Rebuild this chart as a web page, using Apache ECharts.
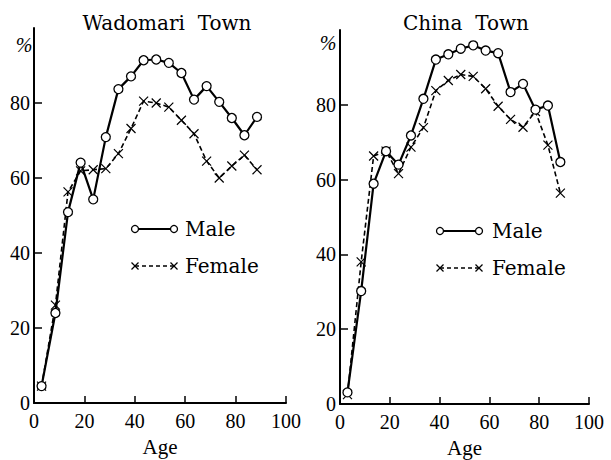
<!DOCTYPE html>
<html>
<head>
<meta charset="utf-8">
<script src="https://cdn.jsdelivr.net/npm/echarts@6/dist/echarts.min.js"></script>
<style>html,body{margin:0;padding:0;background:#fff;}#c{width:611px;height:460px;}</style>
</head>
<body>
<div id="c"></div>
<script>
// Age group midpoints (years)
const ages = [3, 8.5, 13.5, 18.5, 23.5, 28.5, 33.5, 38.5, 43.5, 48.5, 53.5, 58.5, 63.5, 68.5, 73.5, 78.5, 83.5, 88.5];
// Wadomari Town (%)
const wadomariMale = [4.5, 24, 50.9, 64.1, 54.3, 70.9, 83.7, 87.1, 91.4, 91.6, 90.7, 88, 80.9, 84.5, 80.3, 76, 71.4, 76.3];
const wadomariFemale = [4.5, 26.1, 56.3, 61.9, 62.2, 62.5, 66.5, 73.2, 80.5, 80, 78.9, 75.4, 71.8, 64.5, 60, 63.2, 66.1, 62.2];
// China Town (%)
const chinaMale = [3.1, 30.2, 58.9, 67.6, 64, 71.8, 81.6, 92.1, 93.5, 95, 95.9, 94.5, 93.8, 83.4, 85.6, 78.7, 79.8, 64.7];
const chinaFemale = [2.5, 38, 66.3, 67.6, 61.6, 68.7, 73.9, 83.8, 86.5, 88.1, 87.6, 84.3, 79.6, 76.1, 74, 78.2, 69.2, 56.4];
// Titles and labels
const panelTitles = ['Wadomari  Town', 'China  Town'];
const seriesNames = ['Male', 'Female'];
const xTicks = [0, 20, 40, 60, 80, 100];
const yTicks = [0, 20, 40, 60, 80];
const xLabel = 'Age';
const yUnit = '%';

const pairs = (xs, ys) => xs.map((x, i) => [x, ys[i]]);
const crossPath = 'path://M0,0L10,10M0,10L10,0';
const serifNum = 'Liberation Serif';
const serifText = 'DejaVu Serif';

function xAxisFor(gi) {
  return {
    gridIndex: gi, type: 'value', min: 0, max: 100, interval: 20,
    name: xLabel, nameLocation: 'middle', nameGap: 33,
    nameTextStyle: {fontFamily: serifNum, fontSize: 21, color: '#000'},
    axisLine: {show: true, onZero: false, lineStyle: {color: '#000', width: 2}},
    axisTick: {show: true, inside: true, length: 7, lineStyle: {color: '#000', width: 1.5}, customValues: xTicks.slice(1)},
    axisLabel: {color: '#000', fontFamily: serifNum, fontSize: 20, margin: 8, customValues: xTicks},
    splitLine: {show: false}
  };
}
function yAxisFor(gi) {
  return {
    gridIndex: gi, type: 'value', min: 0, max: 100, interval: 20,
    axisLine: {show: true, onZero: false, lineStyle: {color: '#000', width: 2}},
    axisTick: {show: true, inside: true, length: 8, lineStyle: {color: '#000', width: 1.5}, customValues: yTicks.slice(1)},
    axisLabel: {color: '#000', fontFamily: serifNum, fontSize: 20, margin: 4, customValues: yTicks},
    splitLine: {show: false}
  };
}
function maleSeries(gi, data) {
  return {
    name: seriesNames[0], type: 'line', xAxisIndex: gi, yAxisIndex: gi, z: 3,
    data: pairs(ages, data), symbol: 'circle', symbolSize: 9,
    lineStyle: {color: '#000', width: 2.2},
    itemStyle: {color: '#fff', borderColor: '#000', borderWidth: 1.3},
    animation: false
  };
}
function femaleSeries(gi, data) {
  return {
    name: seriesNames[1], type: 'line', xAxisIndex: gi, yAxisIndex: gi, z: 2,
    data: pairs(ages, data), symbol: crossPath, symbolSize: 9,
    lineStyle: {color: '#000', width: 1.6, type: [5, 3]},
    itemStyle: {color: '#000', borderColor: '#000', borderWidth: 1.2},
    animation: false
  };
}
function txt(text, x, y, size, family, align, style) {
  return {type: 'text', x: x, y: y, style: {text: text, fontSize: size, fontFamily: family, fontStyle: style || 'normal',
    fill: '#000', align: align || 'center', verticalAlign: 'middle', textAlign: align || 'center', textVerticalAlign: 'middle'}};
}
function legendGroup(x1, x2, ym, yf, tx) {
  const els = [];
  els.push({type: 'line', shape: {x1: x1, y1: ym, x2: x2, y2: ym}, style: {stroke: '#000', lineWidth: 2}});
  els.push({type: 'circle', shape: {cx: x1, cy: ym, r: 3.5}, style: {fill: '#fff', stroke: '#000', lineWidth: 1.3}});
  els.push({type: 'circle', shape: {cx: x2, cy: ym, r: 3.5}, style: {fill: '#fff', stroke: '#000', lineWidth: 1.3}});
  els.push(txt(seriesNames[0], tx, ym, 20, serifText, 'left'));
  els.push({type: 'line', shape: {x1: x1, y1: yf, x2: x2, y2: yf}, style: {stroke: '#000', lineWidth: 1.5, lineDash: [4, 3]}});
  [x1, x2].forEach(function (cx) {
    els.push({type: 'line', shape: {x1: cx - 3.5, y1: yf - 3.5, x2: cx + 3.5, y2: yf + 3.5}, style: {stroke: '#000', lineWidth: 1.2}});
    els.push({type: 'line', shape: {x1: cx - 3.5, y1: yf + 3.5, x2: cx + 3.5, y2: yf - 3.5}, style: {stroke: '#000', lineWidth: 1.2}});
  });
  els.push(txt(seriesNames[1], tx, yf, 20, serifText, 'left'));
  return els;
}

const chart = echarts.init(document.getElementById('c'), null, {renderer: 'svg'});
chart.setOption({
  backgroundColor: '#fff',
  animation: false,
  grid: [
    {left: 34, top: 28, width: 252, height: 375, containLabel: false, outerBoundsMode: 'none'},
    {left: 340, top: 30, width: 249, height: 374, containLabel: false, outerBoundsMode: 'none'}
  ],
  xAxis: [xAxisFor(0), xAxisFor(1)],
  yAxis: [yAxisFor(0), yAxisFor(1)],
  series: [
    femaleSeries(0, wadomariFemale), maleSeries(0, wadomariMale),
    femaleSeries(1, chinaFemale), maleSeries(1, chinaMale)
  ],
  graphic: [].concat(
    [txt(panelTitles[0], 167, 23, 20, serifText),
     txt(panelTitles[1], 466, 23, 20, serifText),
     txt(yUnit, 24, 45, 20, serifNum, 'center', 'italic'),
     txt(yUnit, 328, 43, 20, serifNum, 'center', 'italic')],
    legendGroup(135, 174, 229, 266, 185),
    legendGroup(440, 479, 231, 268, 492)
  )
});
</script>
</body>
</html>
